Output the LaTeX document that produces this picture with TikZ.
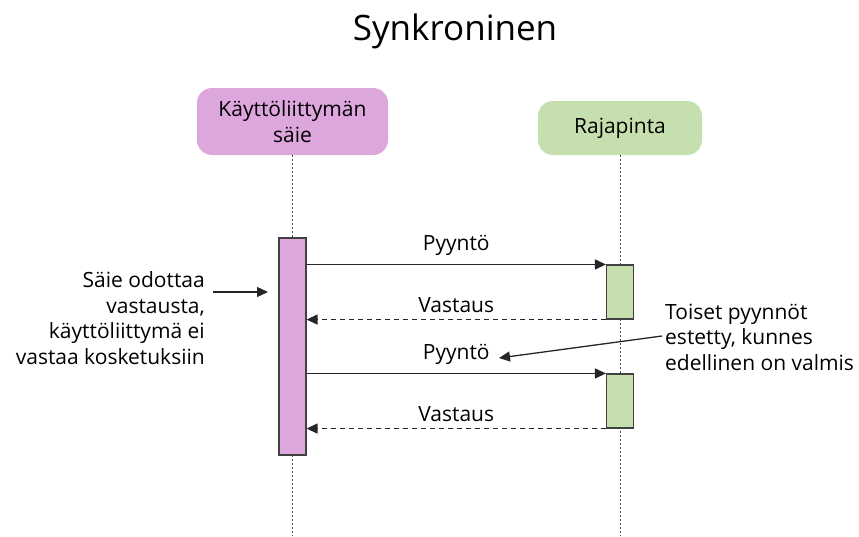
\documentclass[tikz,border=0pt]{standalone}
\usepackage{fontspec}
\setmainfont{Open Sans}
\usepackage{xcolor}
\usetikzlibrary{arrows.meta}
\definecolor{uipurple}{HTML}{DDA6DD}
\definecolor{apigreen}{HTML}{C5E0AE}
\tikzstyle{arrow} = [line width=1.3pt, -{Triangle[length=11pt,width=10pt]}, draw=black!85]
\tikzstyle{reply} = [arrow, dash pattern=on 5pt off 4pt]
\tikzstyle{lifeline} = [draw=black!70, line width=0.8pt, dash pattern=on 2pt off 2pt]
\tikzstyle{actor} = [rounded corners=15pt, inner sep=0pt, align=center]
\tikzstyle{actbar} = [draw=black!75, line width=1.1pt, inner sep=0pt, minimum width=27pt]
\tikzstyle{txt} = [font=\fontsize{21}{25.5}\selectfont, inner sep=0pt]

\begin{document}
\begin{tikzpicture}[x=1pt, y=-1pt]
    \useasboundingbox (0,0) rectangle (859,536);

    \node[font=\fontsize{35}{40}\selectfont] (title) at (455,31) {Synkroninen};

    % osapuolet
    \node[actor, txt, fill=uipurple, minimum width=191pt, minimum height=67pt] (ui) at (292.5,121.5) {Käyttöliittymän\\säie};
    \node[actor, txt, fill=apigreen, minimum width=164pt, minimum height=54pt] (api) at (620,128) {Rajapinta};

    \coordinate (ui end) at (292.5,536);
    \coordinate (api end) at (620,536);
    \draw[lifeline] (ui.south) -- (ui end);
    \draw[lifeline] (api.south) -- (api end);

    % aktivaatiot
    \node[actbar, fill=uipurple, minimum height=217pt] (ui bar) at (292.5,346.5) {};
    \node[actbar, fill=apigreen, minimum height=54pt] (api bar1) at (620,292) {};
    \node[actbar, fill=apigreen, minimum height=54pt] (api bar2) at (620,401) {};

    % viestit
    \draw[arrow] (ui bar.east |- api bar1.north west) -- (api bar1.north west)
        node[txt, midway, above=8pt] (req1) {Pyyntö};
    \draw[reply] (api bar1.south west) -- (ui bar.east |- api bar1.south west)
        node[txt, midway, above=6pt] (res1) {Vastaus};
    \draw[arrow] (ui bar.east |- api bar2.north west) -- (api bar2.north west)
        node[txt, midway, above=8pt] (req2) {Pyyntö};
    \draw[reply] (api bar2.south west) -- (ui bar.east |- api bar2.south west)
        node[txt, midway, above=6pt] (res2) {Vastaus};

    % huomautukset
    \node[txt, align=right, anchor=east] (wait note) at (205,318) {Säie odottaa\\vastausta,\\käyttöliittymä ei\\vastaa kosketuksiin};
    \node[txt, align=left, anchor=west] (block note) at (665,337) {Toiset pyynnöt\\estetty, kunnes\\edellinen on valmis};

    \coordinate (wait start) at (213,292);
    \coordinate (wait tip) at (268,292);
    \draw[arrow] (wait start) -- (wait tip);
    \coordinate (block start) at (662,336);
    \coordinate (block tip) at (499,358);
    \draw[arrow] (block start) -- (block tip);
\end{tikzpicture}
\end{document}
